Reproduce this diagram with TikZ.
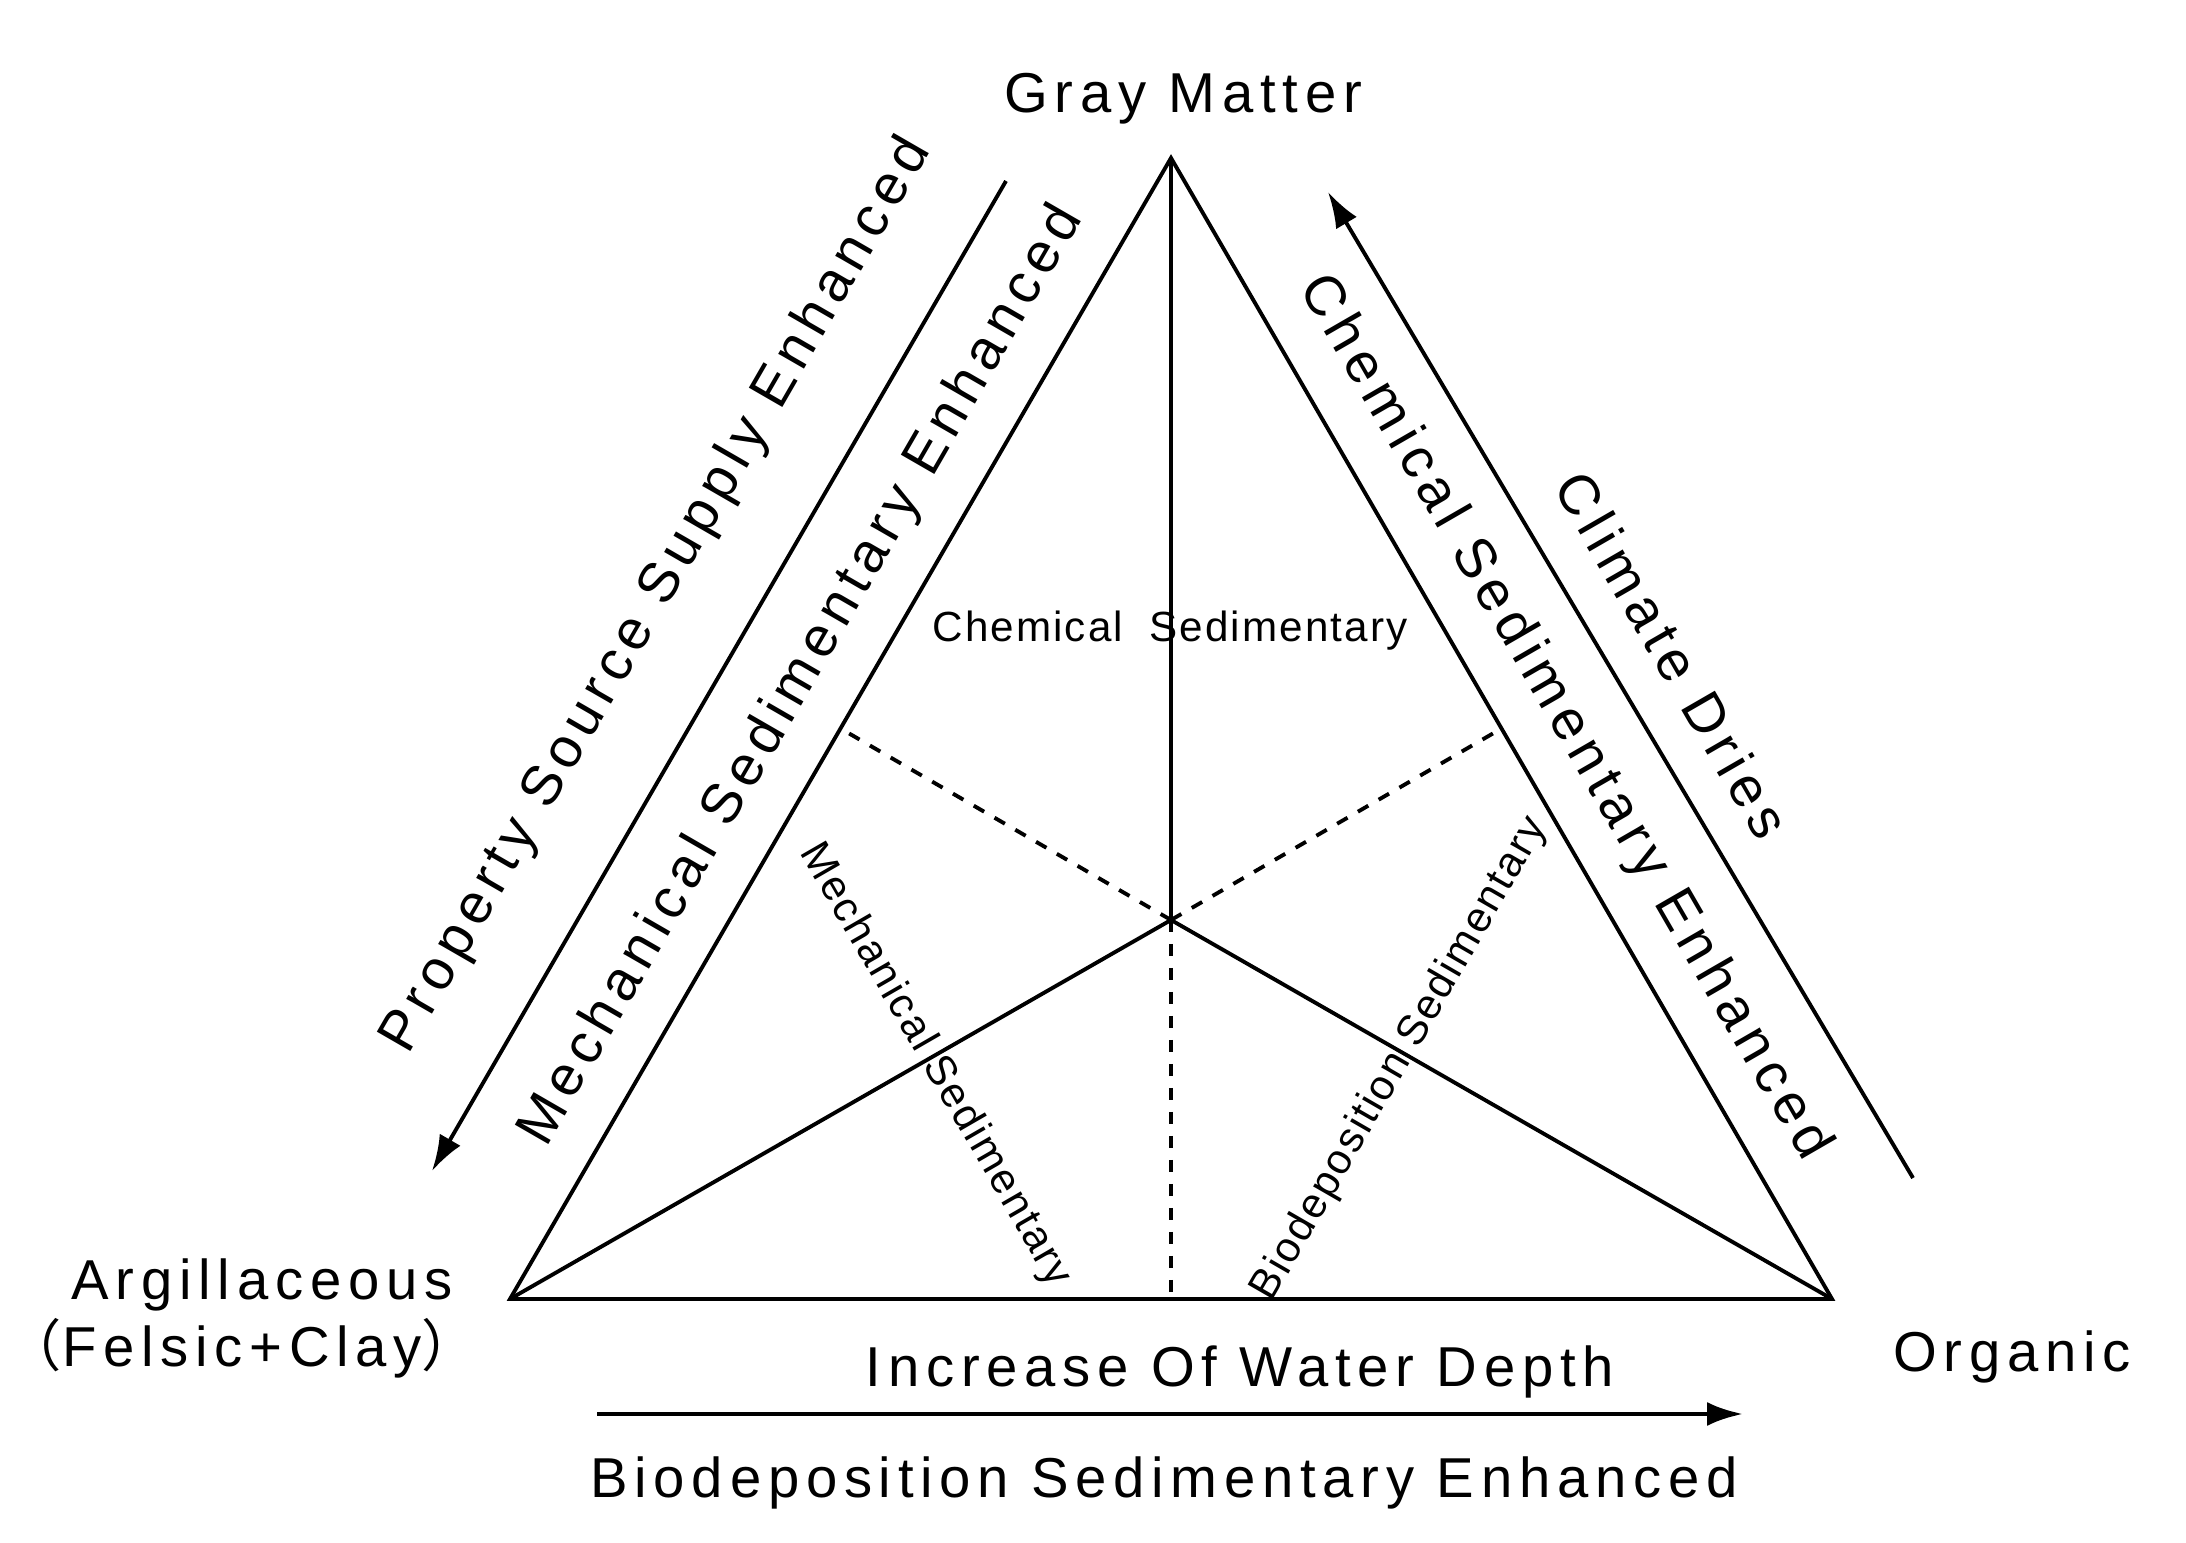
\documentclass[tikz,border=0pt]{standalone}
\usepackage{fontspec}
\setmainfont{Liberation Sans}
\newfontfamily\lblfont[LetterSpace=12]{Liberation Sans}
\newfontfamily\smlfont[LetterSpace=5]{Liberation Sans}
\newfontfamily\cjk{Noto Sans CJK SC}
\usetikzlibrary{arrows.meta,calc}

\begin{document}
\begin{tikzpicture}[
	edge/.style={line width=1.1pt,line join=miter},
	split/.style={line width=1.1pt,dash pattern=on 1.2mm off 1.2mm},
	trend/.style={line width=1.1pt,-{Latex[length=3.6mm,width=2.4mm]}},
	big/.style={font=\lblfont\fontsize{16pt}{19pt}\selectfont,inner sep=0pt},
	small/.style={font=\smlfont\fontsize{12pt}{14pt}\selectfont,inner sep=0pt}]
		\useasboundingbox (0,0) rectangle (21.86,15.42);
		% corners and centre of the triangle
		\coordinate (T) at (11.71,13.84);
		\coordinate (L) at (5.10,2.43);
		\coordinate (R) at (18.32,2.43);
		\coordinate (C) at (11.71,6.22);
		\coordinate (mLT) at ($(L)!0.5!(T)$);
		\coordinate (mTR) at ($(T)!0.5!(R)$);
		\coordinate (mLR) at ($(L)!0.5!(R)$);
		\draw[edge] (L) -- (T) -- (R) -- cycle;
		\foreach \v in {T,L,R}{
			\draw[edge] (C) -- (\v);
		}
		\foreach \m in {mLT,mTR,mLR}{
			\draw[split] (C) -- (\m);
		}
		% trend arrows
		\coordinate (srcA) at (10.06,13.61);
		\coordinate (srcB) at (4.32,3.71);
		\coordinate (dryA) at (19.13,3.64);
		\coordinate (dryB) at (13.28,13.50);
		\coordinate (depA) at (5.97,1.28);
		\coordinate (depB) at (17.43,1.28);
		\draw[trend] (srcA) -- (srcB);
		\draw[trend] (dryA) -- (dryB);
		\draw[trend,line width=1.4pt] (depA) -- (depB);
		% end members
		\node[big,anchor=base] (gray) at (11.83,14.29) {Gray Matter};
		\node[big,anchor=base] (argil) at (2.62,2.42) {Argillaceous};
		\node[big,anchor=base] (felsic) at (2.42,1.75) {{\cjk （}Felsic+Clay{\cjk ）}};
		\node[big,anchor=base] (organic) at (20.12,1.70) {Organic};
		% trends
		\node[big,anchor=base] (depth) at (12.40,1.55) {Increase Of Water Depth};
		\node[big,anchor=base] (bioE) at (11.64,0.44) {Biodeposition Sedimentary Enhanced};
		\node[big,rotate=60] (source) at (6.57,9.46) {Property Source Supply Enhanced};
		\node[big,rotate=60] (mechE) at (8.02,8.66) {Mechanical Sedimentary Enhanced};
		\node[big,rotate=-60] (chemE) at (15.64,8.24) {Chemical Sedimentary Enhanced};
		\node[big,rotate=-60] (dry) at (16.73,8.87) {Climate Dries};
		% fields
		\node[small,anchor=base] (chem) at (11.70,9.00) {Chemical\hspace{0.3em} Sedimentary};
		\node[small,rotate=-60] (mech) at (9.35,4.77) {Mechanical Sedimentary};
		\node[small,rotate=60] (bio) at (14.00,4.83) {Biodeposition Sedimentary};
	\end{tikzpicture}
\end{document}
